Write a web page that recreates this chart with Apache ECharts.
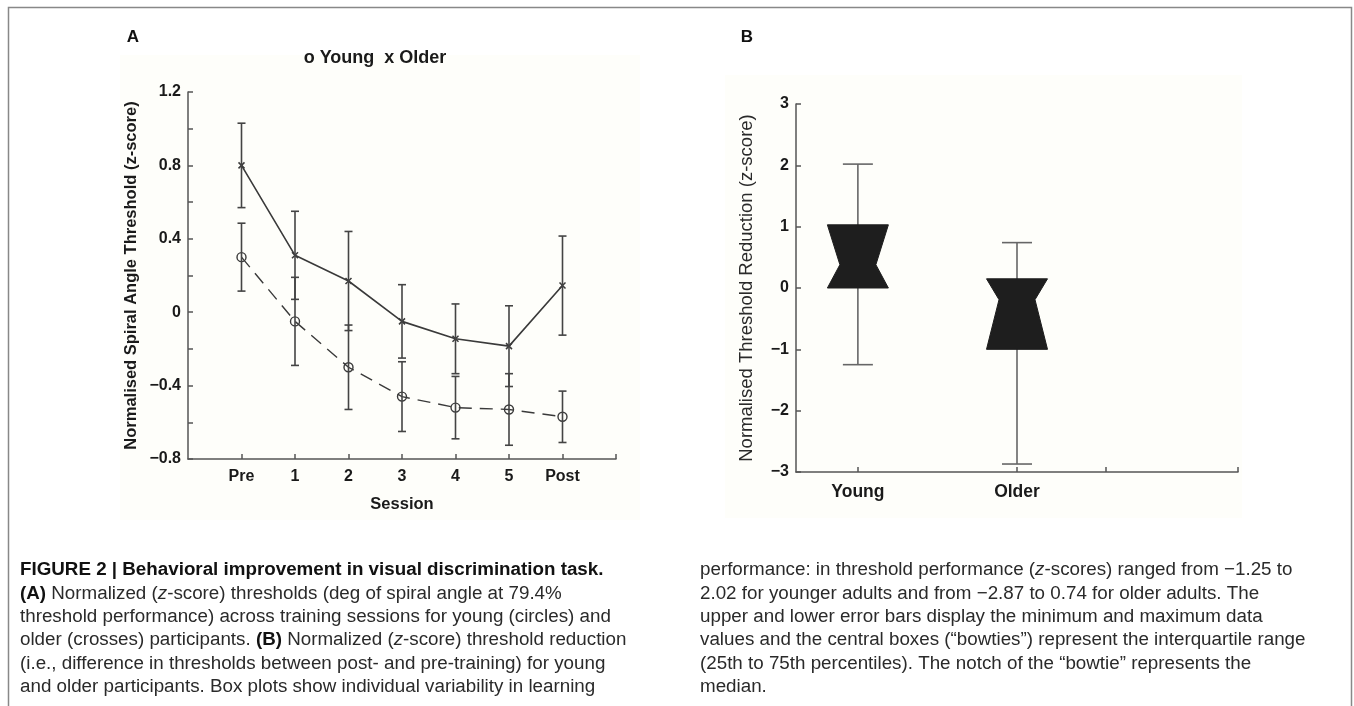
<!DOCTYPE html>
<html><head><meta charset="utf-8">
<script src="https://cdn.jsdelivr.net/npm/echarts@6/dist/echarts.min.js"></script>
<style>html,body{margin:0;padding:0;background:#fff}#c{width:1354px;height:706px}</style>
</head><body><div id="c"></div>
<script>
// ---- Panel A data ----
const sessions = ['Pre', '1', '2', '3', '4', '5', 'Post'];
const youngMean = [0.30, -0.05, -0.30, -0.46, -0.52, -0.53, -0.57];
const youngErr  = [0.185, 0.24, 0.23, 0.19, 0.17, 0.195, 0.14];
const olderMean = [0.80, 0.31, 0.17, -0.05, -0.145, -0.185, 0.145];
const olderErr  = [0.23, 0.24, 0.27, 0.20, 0.19, 0.22, 0.27];
const yLabelsA = [-0.8, -0.4, 0, 0.4, 0.8, 1.2];
const yTicksA = [-0.8, -0.6, -0.4, -0.2, 0, 0.2, 0.4, 0.6, 0.8, 1.0, 1.2];
// ---- Panel B data ----
const groups = ['Young', 'Older'];
const boxMin = [-1.25, -2.87];
const boxQ1 = [0.0, -1.0];
const boxMedian = [0.38, -0.19];
const boxQ3 = [1.03, 0.15];
const boxMax = [2.02, 0.74];
const yLabelsB = [-3, -2, -1, 0, 1, 2, 3];

// layout constants
const groupPos = [1.4, 5.0];
const FONT = "'Liberation Sans', Arial, sans-serif";
const AX = '#555', INK = '#1a1a1a', LINE = '#3a3a3a';

const fmtNum = v => {
  const r = Math.round(v * 10) / 10;
  if (r === 0) return '0';
  return (r < 0 ? '\u2212' : '') + Math.abs(r);
};

function errBar(color, capW) {
  return function (params, api) {
    const x = api.value(0), lo = api.value(1), hi = api.value(2);
    const a = api.coord([x, lo]), b = api.coord([x, hi]);
    const st = { stroke: color, lineWidth: 1.6 };
    return { type: 'group', children: [
      { type: 'line', shape: { x1: a[0], y1: a[1], x2: b[0], y2: b[1] }, style: st },
      { type: 'line', shape: { x1: a[0] - capW / 2, y1: a[1], x2: a[0] + capW / 2, y2: a[1] }, style: st },
      { type: 'line', shape: { x1: b[0] - capW / 2, y1: b[1], x2: b[0] + capW / 2, y2: b[1] }, style: st }
    ]};
  };
}

function bowtie(params, api) {
  const x = api.value(0);
  const mn = api.coord([x, api.value(1)]), q1 = api.coord([x, api.value(2)]),
        md = api.coord([x, api.value(3)]), q3 = api.coord([x, api.value(4)]),
        mx = api.coord([x, api.value(5)]);
  const xc = mn[0], w = 61, nw = 36, cap = 30;
  const ws = { stroke: '#666', lineWidth: 1.6 };
  return { type: 'group', children: [
    { type: 'line', shape: { x1: xc, y1: mn[1], x2: xc, y2: mx[1] }, style: ws },
    { type: 'line', shape: { x1: xc - cap / 2, y1: mn[1], x2: xc + cap / 2, y2: mn[1] }, style: ws },
    { type: 'line', shape: { x1: xc - cap / 2, y1: mx[1], x2: xc + cap / 2, y2: mx[1] }, style: ws },
    { type: 'polygon', shape: { points: [
        [xc - w / 2, q3[1]], [xc + w / 2, q3[1]], [xc + nw / 2, md[1]],
        [xc + w / 2, q1[1]], [xc - w / 2, q1[1]], [xc - nw / 2, md[1]]
      ] }, style: { fill: '#1e1e1e', stroke: '#1e1e1e', lineWidth: 1 } }
  ]};
}

const chart = echarts.init(document.getElementById('c'), null, { renderer: 'canvas' });

const axisLineStyle = { color: AX, width: 1.5 };
const tickLbl = { color: INK, fontSize: 16, fontWeight: 'bold', fontFamily: FONT };

const capY0 = 570, capDY = 23.4;
const capLines = [
  { x: 20, r: 0, t: '{b|FIGURE 2 | Behavioral improvement in visual discrimination task.}' },
  { x: 20, r: 1, t: '{b|(A)} Normalized ({i|z}-score) thresholds (deg of spiral angle at 79.4%' },
  { x: 20, r: 2, t: 'threshold performance) across training sessions for young (circles) and' },
  { x: 20, r: 3, t: 'older (crosses) participants. {b|(B)} Normalized ({i|z}-score) threshold reduction' },
  { x: 20, r: 4, t: '(i.e., difference in thresholds between post- and pre-training) for young' },
  { x: 20, r: 5, t: 'and older participants. Box plots show individual variability in learning' },
  { x: 700, r: 0, t: 'performance: in threshold performance ({i|z}-scores) ranged from \u22121.25 to' },
  { x: 700, r: 1, t: '2.02 for younger adults and from \u22122.87 to 0.74 for older adults. The' },
  { x: 700, r: 2, t: 'upper and lower error bars display the minimum and maximum data' },
  { x: 700, r: 3, t: 'values and the central boxes (\u201cbowties\u201d) represent the interquartile range' },
  { x: 700, r: 4, t: '(25th to 75th percentiles). The notch of the \u201cbowtie\u201d represents the' },
  { x: 700, r: 5, t: 'median.' }
];

const CAPFS = 18.8;
const graphics = [
  { type: 'rect', z: -10, shape: { x: 8.5, y: 7.5, width: 1343, height: 720 },
    style: { fill: '#fff', stroke: '#888', lineWidth: 1.5 } },
  { type: 'rect', z: -9, shape: { x: 120, y: 55, width: 520, height: 465 }, style: { fill: '#fefefa' } },
  { type: 'rect', z: -9, shape: { x: 725, y: 75, width: 517, height: 443 }, style: { fill: '#fefefa' } },
  { type: 'text', x: 133, y: 37, style: { text: 'A', font: "bold 17px 'Liberation Sans', Arial", fill: '#111', align: 'center', verticalAlign: 'middle' } },
  { type: 'text', x: 747, y: 37, style: { text: 'B', font: "bold 17px 'Liberation Sans', Arial", fill: '#111', align: 'center', verticalAlign: 'middle' } },
  { type: 'text', x: 375, y: 58, style: { text: 'o Young  x Older', font: "bold 18px 'Liberation Sans', Arial", fill: INK, align: 'center', verticalAlign: 'middle' } }
];
capLines.forEach(l => graphics.push({
  type: 'text', x: l.x, y: capY0 + capDY * l.r,
  style: {
    text: l.t, fontSize: CAPFS, fontFamily: FONT, fill: '#2a2a2a', verticalAlign: 'middle',
    rich: {
      b: { fontWeight: 'bold', fontSize: CAPFS, fontFamily: FONT, fill: '#111' },
      i: { fontStyle: 'italic', fontSize: CAPFS, fontFamily: FONT, fill: '#2a2a2a' }
    }
  }
}));

const option = {
  animation: false,
  backgroundColor: '#fff',
  graphic: { elements: graphics },
  grid: [
    { left: 188, top: 92, width: 428, height: 367 },
    { left: 796, top: 104, width: 442, height: 368 }
  ],
  xAxis: [
    { gridIndex: 0, type: 'value', min: 0, max: 8,
      axisLine: { onZero: false, lineStyle: axisLineStyle },
      axisTick: { inside: true, length: 5, customValues: [1, 2, 3, 4, 5, 6, 7, 8], lineStyle: axisLineStyle },
      axisLabel: Object.assign({ customValues: [1, 2, 3, 4, 5, 6, 7], formatter: v => sessions[Math.round(v) - 1], margin: 10 }, tickLbl),
      splitLine: { show: false },
      name: 'Session', nameLocation: 'middle', nameGap: 37,
      nameTextStyle: { color: INK, fontSize: 16.5, fontWeight: 'bold', fontFamily: FONT } },
    { gridIndex: 1, type: 'value', min: 0, max: 10,
      axisLine: { onZero: false, lineStyle: axisLineStyle },
      axisTick: { inside: true, length: 5, customValues: [groupPos[0], groupPos[1], 7, 10], lineStyle: axisLineStyle },
      axisLabel: Object.assign({}, tickLbl, { customValues: groupPos, formatter: v => groups[groupPos.indexOf(v)], margin: 11, fontSize: 17.5 }),
      splitLine: { show: false } }
  ],
  yAxis: [
    { gridIndex: 0, type: 'value', min: -0.8, max: 1.2,
      axisLine: { show: true, onZero: false, lineStyle: axisLineStyle },
      axisTick: { show: true, inside: true, length: 5, customValues: yTicksA, lineStyle: axisLineStyle },
      axisLabel: Object.assign({ customValues: yLabelsA, formatter: fmtNum, margin: 7 }, tickLbl),
      splitLine: { show: false },
      name: 'Normalised Spiral Angle Threshold (z-score)', nameLocation: 'middle', nameGap: 48,
      nameTextStyle: { color: INK, fontSize: 16.5, fontWeight: 'bold', fontFamily: FONT } },
    { gridIndex: 1, type: 'value', min: -3, max: 3, interval: 1,
      axisLine: { show: true, onZero: false, lineStyle: axisLineStyle },
      axisTick: { show: true, inside: true, length: 5, lineStyle: axisLineStyle },
      axisLabel: Object.assign({ formatter: fmtNum, margin: 7 }, tickLbl),
      splitLine: { show: false },
      name: 'Normalised Threshold Reduction (z-score)', nameLocation: 'middle', nameGap: 40,
      nameTextStyle: { color: '#2a2a2a', fontSize: 18.5, fontFamily: FONT } }
  ],
  series: [
    { type: 'line', name: 'Older', xAxisIndex: 0, yAxisIndex: 0,
      data: sessions.map((s, i) => [i + 1, olderMean[i]]),
      lineStyle: { color: LINE, width: 1.6, type: 'solid' },
      symbol: 'path://M0,0L10,10M10,0L0,10', symbolSize: 6,
      itemStyle: { color: LINE, borderColor: LINE, borderWidth: 1.5 }, z: 3 },
    { type: 'line', name: 'Young', xAxisIndex: 0, yAxisIndex: 0,
      data: sessions.map((s, i) => [i + 1, youngMean[i]]),
      lineStyle: { color: LINE, width: 1.4, type: [13, 8] },
      symbol: 'circle', symbolSize: 9,
      itemStyle: { color: 'rgba(0,0,0,0)', borderColor: LINE, borderWidth: 1.4 }, z: 3 },
    { type: 'custom', xAxisIndex: 0, yAxisIndex: 0, renderItem: errBar('#444', 8),
      encode: { x: 0, y: [1, 2] },
      data: sessions.map((s, i) => [i + 1, olderMean[i] - olderErr[i], olderMean[i] + olderErr[i]]), z: 4 },
    { type: 'custom', xAxisIndex: 0, yAxisIndex: 0, renderItem: errBar('#444', 8),
      encode: { x: 0, y: [1, 2] },
      data: sessions.map((s, i) => [i + 1, youngMean[i] - youngErr[i], youngMean[i] + youngErr[i]]), z: 4 },
    { type: 'custom', xAxisIndex: 1, yAxisIndex: 1, renderItem: bowtie,
      encode: { x: 0, y: [1, 2, 3, 4, 5] },
      data: groups.map((g, i) => [groupPos[i], boxMin[i], boxQ1[i], boxMedian[i], boxQ3[i], boxMax[i]]) }
  ]
};
chart.setOption(option);
</script></body></html>
